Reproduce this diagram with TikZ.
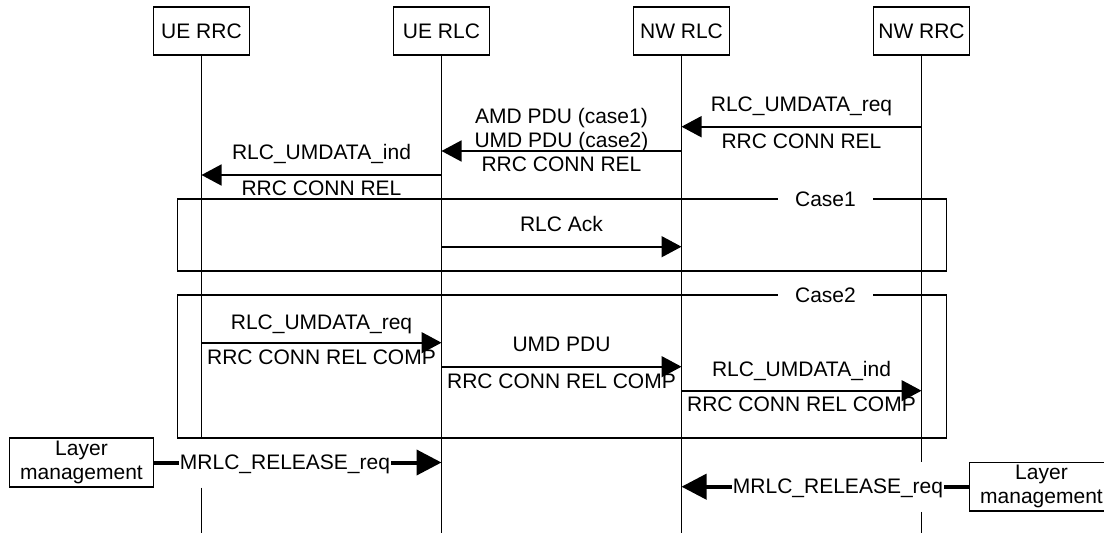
\documentclass[tikz,border=0pt]{standalone}
\usepackage{fontspec}
\setmainfont{Liberation Sans}
\usetikzlibrary{arrows.meta}

\begin{document}
\begin{tikzpicture}
[every node/.style={inner sep=0pt, font=\fontsize{21pt}{24pt}\selectfont},
 entity/.style={rectangle, draw=black, line width=1.6pt, minimum width=96pt, minimum height=48pt},
 mgmtbox/.style={rectangle, draw=black, line width=1.6pt, minimum width=144pt, minimum height=48.5pt, align=center},
 life/.style={line width=1.6pt, color=black},
 frame/.style={line width=1.6pt, color=black},
 casetag/.style={fill=white, minimum width=95pt},
 msg/.style={line width=1.6pt, color=black, -{Triangle[length=20pt, width=21pt]}},
 release/.style={line width=4pt, color=black, -{Triangle[length=25pt, width=25pt]}},
 txt/.style={anchor=base},
 reltxt/.style={anchor=base, fill=white, inner xsep=1pt, yshift=-7pt, pos=0.455}]
\useasboundingbox (0pt, 0pt) rectangle (1104pt, -533pt);
\node (uerrc) [entity] at (201.5pt, -31pt) {UE RRC};
\node (uerlc) [entity] at (441.5pt, -31pt) {UE RLC};
\node (nwrlc) [entity] at (681.5pt, -31pt) {NW RLC};
\node (nwrrc) [entity] at (921.5pt, -31pt) {NW RRC};
\node (lmleft) [mgmtbox] at (81.5pt, -462.5pt) {Layer\\management};
\node (lmright) [mgmtbox] at (1041.5pt, -486.7pt) {Layer\\management};
\coordinate (bottom) at (0pt, -540pt);
\draw [life] (uerrc.south) -- (uerrc |- lmleft.north);
\draw [life] (uerrc |- lmleft.south) -- (uerrc |- bottom);
\draw [life] (uerlc.south) -- (uerlc |- bottom);
\draw [life] (nwrlc.south) -- (nwrlc |- bottom);
\draw [life] (nwrrc.south) -- (nwrrc |- lmright.north);
\draw [life] (nwrrc |- lmright.south) -- (nwrrc |- bottom);
\draw [frame] (177.5pt, -199pt) rectangle (946.5pt, -271pt);
\draw [frame] (177.5pt, -295pt) rectangle (946.5pt, -438pt);
\node (case1) [casetag] at (825.5pt, -199.5pt) {Case1};
\node (case2) [casetag] at (825.5pt, -295.5pt) {Case2};
\coordinate (t1) at (0pt, -126.7pt);
\coordinate (t2) at (0pt, -151pt);
\coordinate (t3) at (0pt, -175pt);
\coordinate (t4) at (0pt, -246.7pt);
\coordinate (t5) at (0pt, -342.7pt);
\coordinate (t6) at (0pt, -366.7pt);
\coordinate (t7) at (0pt, -390.7pt);
\draw [msg] (nwrrc |- t1) -- node [txt, yshift=15pt] {RLC\_UMDATA\_req} node [txt, yshift=-21.3pt] {RRC CONN REL} (nwrlc |- t1);
\draw [msg] (nwrlc |- t2) -- node [txt, yshift=28pt] {AMD PDU (case1)} node [txt, yshift=4pt] {UMD PDU (case2)} node [txt, yshift=-20pt] {RRC CONN REL} (uerlc |- t2);
\draw [msg] (uerlc |- t3) -- node [txt, yshift=16pt] {RLC\_UMDATA\_ind} node [txt, yshift=-20pt] {RRC CONN REL} (uerrc |- t3);
\draw [msg] (uerlc |- t4) -- node [txt, yshift=15.7pt] {RLC Ack} (nwrlc |- t4);
\draw [msg] (uerrc |- t5) -- node [txt, yshift=13.7pt] {RLC\_UMDATA\_req} node [txt, yshift=-21.3pt] {RRC CONN REL COMP} (uerlc |- t5);
\draw [msg] (uerlc |- t6) -- node [txt, yshift=15pt] {UMD PDU} node [txt, yshift=-21.3pt] {RRC CONN REL COMP} (nwrlc |- t6);
\draw [msg] (nwrlc |- t7) -- node [txt, yshift=14.7pt] {RLC\_UMDATA\_ind} node [txt, yshift=-21pt] {RRC CONN REL COMP} (nwrrc |- t7);
\draw [release] (lmleft.east) -- node [reltxt] {MRLC\_RELEASE\_req} (uerlc |- lmleft.east);
\draw [release] (lmright.west) -- node [reltxt] {MRLC\_RELEASE\_req} (nwrlc |- lmright.west);
\end{tikzpicture}
\end{document}
